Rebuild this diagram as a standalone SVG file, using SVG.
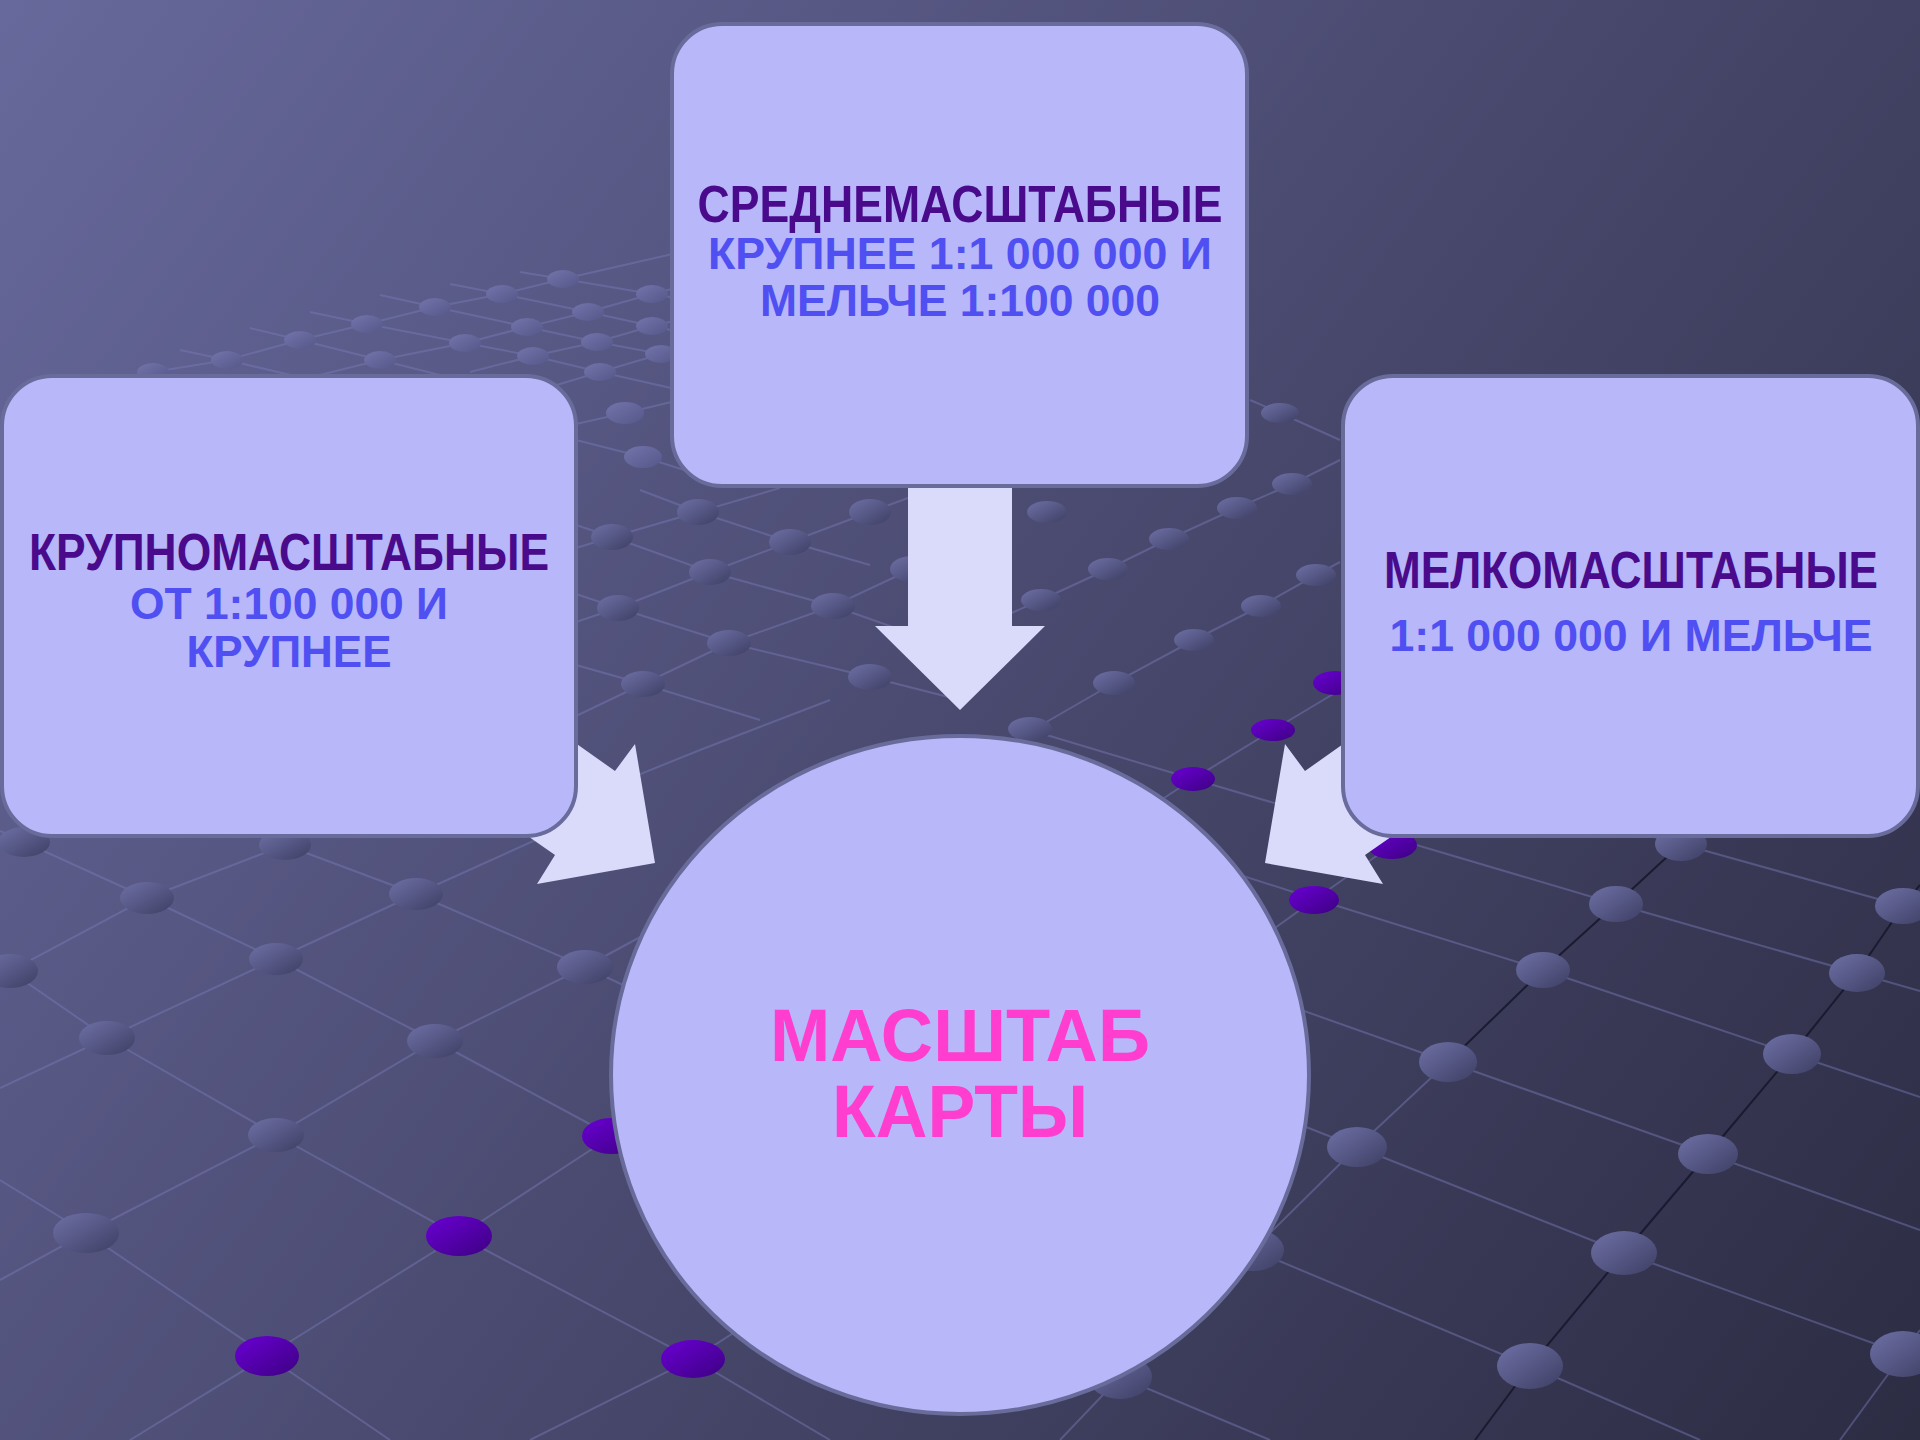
<svg xmlns="http://www.w3.org/2000/svg" width="1920" height="1440" viewBox="0 0 1920 1440">
  <defs>
    <linearGradient id="bg" gradientUnits="userSpaceOnUse" x1="0" y1="0" x2="1920" y2="1440">
      <stop offset="0" stop-color="#67699c"/>
      <stop offset="0.5" stop-color="#4a4a70"/>
      <stop offset="1" stop-color="#2c2c43"/>
    </linearGradient>
    <linearGradient id="gdot" x1="0" y1="0" x2="1" y2="1">
      <stop offset="0" stop-color="#6e70a6"/>
      <stop offset="1" stop-color="#3e3f64"/>
    </linearGradient>
    <linearGradient id="pdot" x1="0" y1="0" x2="1" y2="1">
      <stop offset="0" stop-color="#6a00d4"/>
      <stop offset="1" stop-color="#3d0082"/>
    </linearGradient>
    <linearGradient id="sdot" x1="0" y1="0" x2="1" y2="1">
      <stop offset="0" stop-color="#7375ab"/>
      <stop offset="1" stop-color="#55578a"/>
    </linearGradient>
  </defs>
  <style>
    .gl { fill: none; stroke: #7a7cb8; stroke-opacity: 0.45; stroke-width: 2; }
    .dl { fill: none; stroke: #15152a; stroke-opacity: 0.85; stroke-width: 2; }
    .gd { fill: url(#gdot); }
    .pd { fill: url(#pdot); }
    .sd { fill: url(#sdot); }
    .box { fill: #b7b7fa; stroke: #696b9b; stroke-width: 4; }
    .arrow { fill: #dadafb; }
    .ttl { font-family: "Liberation Sans", Arial, sans-serif; font-weight: bold; font-size: 44px; fill: #4a0a8c; text-anchor: middle; }
    .sub { font-family: "Liberation Sans", Arial, sans-serif; font-weight: bold; font-size: 44px; fill: #4f4ff2; text-anchor: middle; }
    .main { font-family: "Liberation Sans", Arial, sans-serif; font-weight: bold; font-size: 74px; fill: #ff3dcf; text-anchor: middle; }
  </style>

  <rect id="background" x="0" y="0" width="1920" height="1440" fill="url(#bg)"/>

  <g id="grid-lines">
    <polyline class="gl" points="100,385 153,372 227,360 300,340 367,324 435,307 502,294 563,279 690,250"/>
    <polyline class="gl" points="300,380 380,360 465,343 527,327 588,312 652,294 700,282"/>
    <polyline class="gl" points="470,372 533,356 597,342 652,326 700,315"/>
    <polyline class="gl" points="540,390 600,372 661,354 700,343"/>
    <polyline class="gl" points="380,295 435,307 527,327 597,342 661,354 700,362"/>
    <polyline class="gl" points="310,312 367,324 465,343 533,356 600,372 680,390"/>
    <polyline class="gl" points="250,328 300,340 380,360 460,380"/>
    <polyline class="gl" points="450,284 502,294 588,312 652,326 700,336"/>
    <polyline class="gl" points="520,272 563,279 652,294 700,302"/>
    <polyline class="gl" points="180,350 227,360 320,382"/>
    <polyline class="gl" points="576,424 625,413 680,400"/>
    <polyline class="gl" points="576,440 643,457 700,475"/>
    <polyline class="gl" points="576,548 612,537 698,512 780,488"/>
    <polyline class="gl" points="576,622 618,608 710,572 790,542 870,512 935,488"/>
    <polyline class="gl" points="576,716 643,684 729,643 833,606 912,569 960,550"/>
    <polyline class="gl" points="576,800 700,750 830,700"/>
    <polyline class="gl" points="576,525 612,537 710,572 833,606 930,640"/>
    <polyline class="gl" points="640,490 698,512 790,542 870,565"/>
    <polyline class="gl" points="576,594 618,608 729,643 870,677 960,700"/>
    <polyline class="gl" points="576,665 643,684 760,720"/>
    <polyline class="gl" points="1340,460 1292,484 1237,508 1169,539 1108,569 1041,600 1000,618"/>
    <polyline class="gl" points="1340,562 1316,575 1261,606 1194,640 1114,683 1029,732 980,760"/>
    <polyline class="gl" points="1340,690 1273,730 1193,779 1100,840"/>
    <polyline class="gl" points="1480,780 1392,845 1314,900 1230,960"/>
    <polyline class="gl" points="1250,400 1280,413 1340,440"/>
    <polyline class="gl" points="0,831 24,842 147,898 276,959 435,1041 612,1136 760,1218"/>
    <polyline class="gl" points="0,964 10,971 107,1038 276,1135 459,1236 693,1359 830,1440"/>
    <polyline class="gl" points="270,838 285,845 416,894 585,967 760,1050"/>
    <polyline class="gl" points="0,1180 86,1233 267,1356 390,1440"/>
    <polyline class="gl" points="0,977 10,971 147,898 285,845 300,838"/>
    <polyline class="gl" points="0,1088 107,1038 276,959 416,894 540,838"/>
    <polyline class="gl" points="0,1280 86,1233 276,1135 435,1041 585,967 690,910"/>
    <polyline class="gl" points="130,1440 267,1356 459,1236 612,1136 760,1040"/>
    <polyline class="gl" points="530,1440 693,1359 800,1290"/>
    <polyline class="gl" points="1448,1062 1357,1147 1253,1250 1120,1377 1060,1440"/>
    <polyline class="dl" points="1740,790 1681,844 1616,904 1543,970 1448,1062"/>
    <polyline class="dl" points="1920,885 1903,906 1857,973 1792,1054 1708,1154 1624,1253 1530,1366 1475,1440"/>
    <polyline class="gl" points="1920,1330 1903,1354 1840,1440"/>
    <polyline class="gl" points="1400,770 1681,844 1903,906 1920,911"/>
    <polyline class="gl" points="1030,730 1193,779 1616,904 1857,973 1920,991"/>
    <polyline class="gl" points="1100,830 1315,899 1543,970 1792,1054 1920,1097"/>
    <polyline class="gl" points="1290,1006 1448,1062 1708,1154 1920,1230"/>
    <polyline class="gl" points="1250,1105 1357,1147 1624,1253 1903,1354 1920,1360"/>
    <polyline class="gl" points="1150,1200 1253,1250 1530,1366 1700,1440"/>
    <polyline class="gl" points="1080,1360 1120,1377 1270,1440"/>
  </g>

  <g id="grid-dots">
    <ellipse class="sd" cx="563" cy="279" rx="16" ry="9"/>
    <ellipse class="sd" cx="652" cy="294" rx="16" ry="9"/>
    <ellipse class="sd" cx="502" cy="294" rx="16" ry="9"/>
    <ellipse class="sd" cx="435" cy="307" rx="16" ry="9"/>
    <ellipse class="sd" cx="367" cy="324" rx="16" ry="9"/>
    <ellipse class="sd" cx="300" cy="340" rx="16" ry="9"/>
    <ellipse class="sd" cx="227" cy="360" rx="16" ry="9"/>
    <ellipse class="sd" cx="153" cy="372" rx="16" ry="9"/>
    <ellipse class="sd" cx="588" cy="312" rx="16" ry="9"/>
    <ellipse class="sd" cx="527" cy="327" rx="16" ry="9"/>
    <ellipse class="sd" cx="465" cy="343" rx="16" ry="9"/>
    <ellipse class="sd" cx="380" cy="360" rx="16" ry="9"/>
    <ellipse class="sd" cx="652" cy="326" rx="16" ry="9"/>
    <ellipse class="sd" cx="597" cy="342" rx="16" ry="9"/>
    <ellipse class="sd" cx="533" cy="356" rx="16" ry="9"/>
    <ellipse class="sd" cx="600" cy="372" rx="16" ry="9"/>
    <ellipse class="sd" cx="661" cy="354" rx="16" ry="9"/>
    <ellipse class="sd" cx="625" cy="413" rx="19" ry="11"/>
    <ellipse class="sd" cx="643" cy="457" rx="19" ry="11"/>
    <ellipse class="gd" cx="698" cy="512" rx="21" ry="13"/>
    <ellipse class="gd" cx="612" cy="537" rx="21" ry="13"/>
    <ellipse class="gd" cx="710" cy="572" rx="21" ry="13"/>
    <ellipse class="gd" cx="790" cy="542" rx="21" ry="13"/>
    <ellipse class="gd" cx="870" cy="512" rx="21" ry="13"/>
    <ellipse class="gd" cx="618" cy="608" rx="21" ry="13"/>
    <ellipse class="gd" cx="729" cy="643" rx="22" ry="13"/>
    <ellipse class="gd" cx="833" cy="606" rx="22" ry="13"/>
    <ellipse class="gd" cx="643" cy="684" rx="22" ry="13"/>
    <ellipse class="gd" cx="870" cy="677" rx="22" ry="13"/>
    <ellipse class="gd" cx="912" cy="569" rx="22" ry="13"/>
    <ellipse class="gd" cx="1280" cy="413" rx="19" ry="10"/>
    <ellipse class="gd" cx="1292" cy="484" rx="20" ry="11"/>
    <ellipse class="gd" cx="1237" cy="508" rx="20" ry="11"/>
    <ellipse class="gd" cx="1169" cy="539" rx="20" ry="11"/>
    <ellipse class="gd" cx="1108" cy="569" rx="20" ry="11"/>
    <ellipse class="gd" cx="1047" cy="512" rx="20" ry="11"/>
    <ellipse class="gd" cx="1041" cy="600" rx="20" ry="11"/>
    <ellipse class="gd" cx="1316" cy="575" rx="20" ry="11"/>
    <ellipse class="gd" cx="1261" cy="606" rx="20" ry="11"/>
    <ellipse class="gd" cx="1194" cy="640" rx="20" ry="11"/>
    <ellipse class="gd" cx="1114" cy="683" rx="21" ry="12"/>
    <ellipse class="gd" cx="1030" cy="729" rx="22" ry="12"/>
    <ellipse class="gd" cx="24" cy="842" rx="26" ry="15"/>
    <ellipse class="gd" cx="285" cy="845" rx="26" ry="15"/>
    <ellipse class="gd" cx="147" cy="898" rx="27" ry="16"/>
    <ellipse class="gd" cx="416" cy="894" rx="27" ry="16"/>
    <ellipse class="gd" cx="10" cy="971" rx="28" ry="17"/>
    <ellipse class="gd" cx="276" cy="959" rx="27" ry="16"/>
    <ellipse class="gd" cx="585" cy="967" rx="28" ry="17"/>
    <ellipse class="gd" cx="107" cy="1038" rx="28" ry="17"/>
    <ellipse class="gd" cx="435" cy="1041" rx="28" ry="17"/>
    <ellipse class="gd" cx="276" cy="1135" rx="28" ry="17"/>
    <ellipse class="gd" cx="86" cy="1233" rx="33" ry="20"/>
    <ellipse class="gd" cx="1681" cy="844" rx="26" ry="17"/>
    <ellipse class="gd" cx="1616" cy="904" rx="27" ry="18"/>
    <ellipse class="gd" cx="1903" cy="906" rx="28" ry="18"/>
    <ellipse class="gd" cx="1543" cy="970" rx="27" ry="18"/>
    <ellipse class="gd" cx="1857" cy="973" rx="28" ry="19"/>
    <ellipse class="gd" cx="1448" cy="1062" rx="29" ry="20"/>
    <ellipse class="gd" cx="1792" cy="1054" rx="29" ry="20"/>
    <ellipse class="gd" cx="1357" cy="1147" rx="30" ry="20"/>
    <ellipse class="gd" cx="1708" cy="1154" rx="30" ry="20"/>
    <ellipse class="gd" cx="1253" cy="1250" rx="31" ry="21"/>
    <ellipse class="gd" cx="1624" cy="1253" rx="33" ry="22"/>
    <ellipse class="gd" cx="1120" cy="1377" rx="32" ry="22"/>
    <ellipse class="gd" cx="1530" cy="1366" rx="33" ry="23"/>
    <ellipse class="gd" cx="1903" cy="1354" rx="33" ry="23"/>
    <ellipse class="pd" cx="459" cy="1236" rx="33" ry="20"/>
    <ellipse class="pd" cx="267" cy="1356" rx="32" ry="20"/>
    <ellipse class="pd" cx="693" cy="1359" rx="32" ry="19"/>
    <ellipse class="pd" cx="612" cy="1136" rx="30" ry="18"/>
    <ellipse class="pd" cx="1273" cy="730" rx="22" ry="11"/>
    <ellipse class="pd" cx="1193" cy="779" rx="22" ry="12"/>
    <ellipse class="pd" cx="1314" cy="900" rx="25" ry="14"/>
    <ellipse class="pd" cx="1392" cy="845" rx="25" ry="14"/>
    <ellipse class="pd" cx="1335" cy="683" rx="22" ry="12"/>
  </g>

  <g id="connectors">
    <polygon class="arrow" points="908,486 1012,486 1012,626 1045,626 960,710 875,626 908,626"/>
    <polygon class="arrow" points="533,713 615,771 635,744 655,863 537,884 555,855 473,798"/>
    <polygon class="arrow" points="1387,713 1305,771 1285,744 1265,863 1383,884 1365,855 1447,798"/>
  </g>

  <g id="node-medium">
    <rect class="box" x="672" y="24" width="575" height="462" rx="50" ry="50"/>
    <text class="ttl" transform="translate(960,222) scale(1,1.18)" x="0" y="0" textLength="525" lengthAdjust="spacingAndGlyphs">СРЕДНЕМАСШТАБНЫЕ</text>
    <text class="sub" x="960" y="269" textLength="504" lengthAdjust="spacingAndGlyphs">КРУПНЕЕ 1:1 000 000 И</text>
    <text class="sub" x="960" y="316" textLength="400" lengthAdjust="spacingAndGlyphs">МЕЛЬЧЕ 1:100 000</text>
  </g>

  <g id="node-large">
    <rect class="box" x="2" y="376" width="574" height="460" rx="50" ry="50"/>
    <text class="ttl" transform="translate(289,570) scale(1,1.18)" x="0" y="0" textLength="520" lengthAdjust="spacingAndGlyphs">КРУПНОМАСШТАБНЫЕ</text>
    <text class="sub" x="289" y="619" textLength="318" lengthAdjust="spacingAndGlyphs">ОТ 1:100 000 И</text>
    <text class="sub" x="289" y="667" textLength="205" lengthAdjust="spacingAndGlyphs">КРУПНЕЕ</text>
  </g>

  <g id="node-small">
    <rect class="box" x="1343" y="376" width="575" height="460" rx="50" ry="50"/>
    <text class="ttl" transform="translate(1631,588) scale(1,1.18)" x="0" y="0" textLength="494" lengthAdjust="spacingAndGlyphs">МЕЛКОМАСШТАБНЫЕ</text>
    <text class="sub" x="1631" y="651" textLength="483" lengthAdjust="spacingAndGlyphs">1:1 000 000 И МЕЛЬЧЕ</text>
  </g>

  <g id="node-center">
    <ellipse class="box" cx="960" cy="1075" rx="349" ry="339"/>
    <text class="main" x="960" y="1061" textLength="380" lengthAdjust="spacingAndGlyphs">МАСШТАБ</text>
    <text class="main" x="960" y="1137" textLength="256" lengthAdjust="spacingAndGlyphs">КАРТЫ</text>
  </g>
</svg>
